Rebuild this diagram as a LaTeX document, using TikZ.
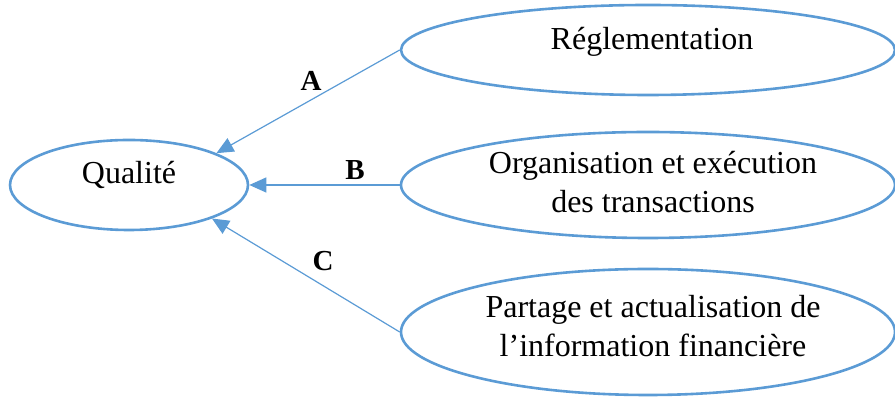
\documentclass[tikz,border=0pt]{standalone}
\usepackage{fontspec}
\setmainfont{Liberation Serif}
\usetikzlibrary{shapes.geometric,arrows.meta}
\definecolor{obl}{HTML}{5B9BD5}
\begin{document}
\begin{tikzpicture}[x=1pt,y=1pt,
  oval/.style={ellipse,draw=obl,line width=2.6pt,inner sep=0pt},
  txt/.style={anchor=base,font=\fontsize{32}{38}\selectfont,inner sep=0pt},
  lbl/.style={anchor=base,font=\fontsize{29}{34}\selectfont\bfseries,inner sep=0pt},
  conn/.style={draw=obl,line width=1.2pt,-{Triangle[length=17pt,width=15pt]}}]
\useasboundingbox (0,0) rectangle (895,398);
\node[oval,minimum width=238pt,minimum height=90pt] (qual) at (129,213) {};
\node[oval,minimum width=494pt,minimum height=90pt] (regl) at (648,348) {};
\node[oval,minimum width=494pt,minimum height=106pt] (org) at (648,213) {};
\node[oval,minimum width=494pt,minimum height=126pt] (part) at (648,66) {};
\node[txt] (tq) at (129,214) {Qualité};
\node[txt] (tr) at (652,348) {Réglementation};
\node[txt] (to1) at (653,224) {Organisation et exécution};
\node[txt] (to2) at (653,185) {des transactions};
\node[txt] (tp1) at (653,80) {Partage et actualisation de};
\node[txt] (tp2) at (653,41) {l’information financière};
\draw[conn] (regl.west) -- (qual.20.9);
\draw[conn] (org.west) -- (qual.east);
\draw[conn] (part.west) -- (qual.-22);
\node[lbl] (la) at (311,307) {A};
\node[lbl] (lb) at (355,218) {B};
\node[lbl] (lc) at (323,127) {C};
\end{tikzpicture}
\end{document}
